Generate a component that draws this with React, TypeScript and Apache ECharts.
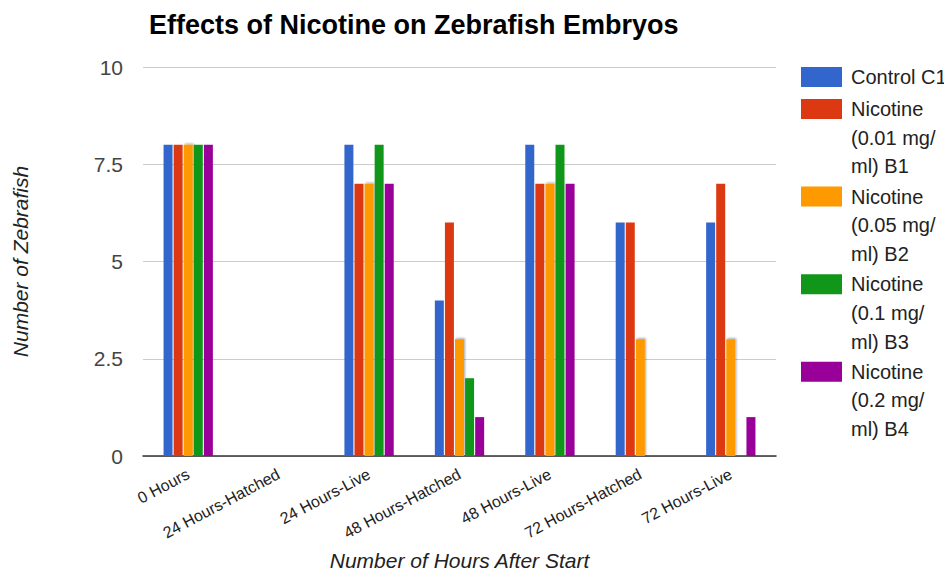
import React, { useEffect, useRef } from "react";
import * as echarts from "echarts";

const categories = [
  "0 Hours",
  "24 Hours-Hatched",
  "24 Hours-Live",
  "48 Hours-Hatched",
  "48 Hours-Live",
  "72 Hours-Hatched",
  "72 Hours-Live",
];

const seriesNames = [
  "Control C1",
  "Nicotine (0.01 mg/ ml) B1",
  "Nicotine (0.05 mg/ ml) B2",
  "Nicotine (0.1 mg/ ml) B3",
  "Nicotine (0.2 mg/ ml) B4",
];

const legendLines = [
  ["Control C1"],
  ["Nicotine", "(0.01 mg/", "ml) B1"],
  ["Nicotine", "(0.05 mg/", "ml) B2"],
  ["Nicotine", "(0.1 mg/", "ml) B3"],
  ["Nicotine", "(0.2 mg/", "ml) B4"],
];

const controlC1 = [8, 0, 8, 4, 8, 6, 6];
const nicotineB1 = [8, 0, 7, 6, 7, 6, 7];
const nicotineB2 = [8, 0, 7, 3, 7, 3, 3];
const nicotineB3 = [8, 0, 8, 2, 8, 0, 0];
const nicotineB4 = [8, 0, 7, 1, 7, 0, 1];

const seriesValues = [controlC1, nicotineB1, nicotineB2, nicotineB3, nicotineB4];
const colors = ["#3366cc", "#dc3912", "#ff9900", "#109618", "#990099"];

const yTicks = [0, 2.5, 5, 7.5, 10];

const FONT = "'Liberation Sans', Arial, sans-serif";

export default function App() {
  const ref = useRef<HTMLDivElement>(null);

  useEffect(() => {
    if (!ref.current) return;
    const chart = echarts.init(ref.current, null, { renderer: "svg" });

    const legendGraphics: any[] = [];
    let y = 67;
    const lineH = 28.7;
    legendLines.forEach((lines, i) => {
      legendGraphics.push({
        type: "rect",
        shape: { x: 801, y, width: 41, height: 20 },
        style: { fill: colors[i] },
      });
      legendGraphics.push({
        type: "text",
        x: 851,
        y: y + 10 - lineH / 2,
        style: {
          text: lines.join("\n"),
          font: `20px ${FONT}`,
          fill: "#222222",
          lineHeight: lineH,
          verticalAlign: "top",
        },
      });
      y += lines.length === 1 ? 32 : lines.length * lineH + 1.5;
    });

    chart.setOption({
      animation: false,
      backgroundColor: "#ffffff",
      title: {
        text: "Effects of Nicotine on Zebrafish Embryos",
        left: 144,
        top: 6,
        textStyle: {
          fontFamily: FONT,
          fontSize: 27,
          fontWeight: "bold",
          color: "#000000",
        },
      },
      grid: { left: 143, right: 176, top: 67, bottom: 118 },
      xAxis: {
        type: "category",
        data: categories,
        name: "Number of Hours After Start",
        nameLocation: "middle",
        nameGap: 94,
        nameTextStyle: {
          fontFamily: FONT,
          fontSize: 21,
          fontStyle: "italic",
          color: "#222222",
        },
        axisLine: { lineStyle: { color: "#333333", width: 1.5 } },
        axisTick: { show: false },
        axisLabel: {
          rotate: 28,
          interval: 0,
          margin: 17,
          fontFamily: FONT,
          fontSize: 16,
          color: "#222222",
        },
      },
      yAxis: {
        type: "value",
        min: 0,
        max: 10,
        interval: 2.5,
        name: "Number of Zebrafish",
        nameLocation: "middle",
        nameGap: 112,
        nameTextStyle: {
          fontFamily: FONT,
          fontSize: 21,
          fontStyle: "italic",
          color: "#222222",
        },
        axisLine: { show: false },
        axisTick: { show: false },
        axisLabel: {
          margin: 20,
          fontFamily: FONT,
          fontSize: 21,
          color: "#444444",
          formatter: (v: number) => (yTicks.includes(v) ? String(v) : ""),
        },
        splitLine: { lineStyle: { color: "#cccccc", width: 1 } },
      },
      series: seriesNames.map((name, i) => ({
        name,
        type: "bar",
        data: seriesValues[i],
        barWidth: 9,
        barGap: "12%",
        itemStyle:
          i === 2
            ? {
                color: colors[i],
                shadowColor: "rgba(0,0,0,0.35)",
                shadowBlur: 2,
                shadowOffsetX: 1,
                shadowOffsetY: -1,
              }
            : { color: colors[i] },
      })),
      graphic: legendGraphics,
    });

    return () => chart.dispose();
  }, []);

  return <div ref={ref} style={{ width: 952, height: 576, margin: -8 }} />;
}
